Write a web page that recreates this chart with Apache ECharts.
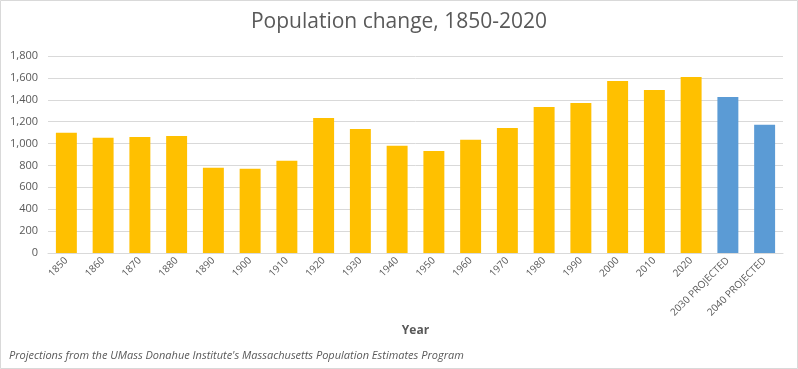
<!DOCTYPE html>
<html><head><meta charset="utf-8">
<script src="https://cdn.jsdelivr.net/npm/echarts@6/dist/echarts.min.js"></script>
<style>html,body{margin:0;padding:0;background:#fff}#c{width:798px;height:369px}</style>
</head><body><div id="c"></div>
<script>
const categories = ['1850','1860','1870','1880','1890','1900','1910','1920','1930','1940','1950','1960','1970','1980','1990','2000','2010','2020','2030 PROJECTED','2040 PROJECTED'];
const values = [1098,1053,1061,1070,778,769,842,1234,1134,979,933,1034,1143,1335,1371,1572,1490,1609,1426,1171];
const projected = [false,false,false,false,false,false,false,false,false,false,false,false,false,false,false,false,false,false,true,true];
const yTicks = {min:0, max:1800, interval:200};

const chart = echarts.init(document.getElementById('c'));
const FONT = '"Open Sans", sans-serif';
chart.setOption({
  animation:false,
  backgroundColor:'#fff',
  title:{text:'Population change, 1850-2020', left:'center', top:7,
    textStyle:{fontFamily:FONT, fontSize:21, fontWeight:'normal', color:'#595959'}},
  grid:{left:48, right:15, top:56, bottom:116, containLabel:false},
  xAxis:{type:'category', data:categories,
    axisLine:{lineStyle:{color:'#d9d9d9'}}, axisTick:{show:false},
    axisLabel:{rotate:45, fontFamily:FONT, fontSize:10, color:'#595959', interval:0, margin:6},
    name:'Year', nameLocation:'middle', nameGap:72,
    nameTextStyle:{fontFamily:FONT, fontSize:12, fontWeight:'bold', color:'#595959'}},
  yAxis:{type:'value', min:yTicks.min, max:yTicks.max, interval:yTicks.interval,
    axisLine:{show:false}, axisTick:{show:false},
    splitLine:{lineStyle:{color:'#d9d9d9'}},
    axisLabel:{fontFamily:FONT, fontSize:11, color:'#595959', margin:10,
      formatter:v=>v.toLocaleString('en-US')}},
  series:[{type:'bar', barCategoryGap:'43%',
    data:values.map((v,i)=>({value:v, itemStyle:{color: projected[i] ? '#5B9BD5' : '#FFC000'}}))}],
  graphic:[
    {type:'rect', shape:{x:0.5,y:0.5,width:797,height:368}, style:{fill:null, stroke:'#d9d9d9', lineWidth:1}, silent:true},
    {type:'text', left:9, top:350, style:{text:"Projections from the UMass Donahue Institute's Massachusetts Population Estimates Program",
      font:'italic 11px "Open Sans", sans-serif', fill:'#595959'}}
  ]
});
</script></body></html>
